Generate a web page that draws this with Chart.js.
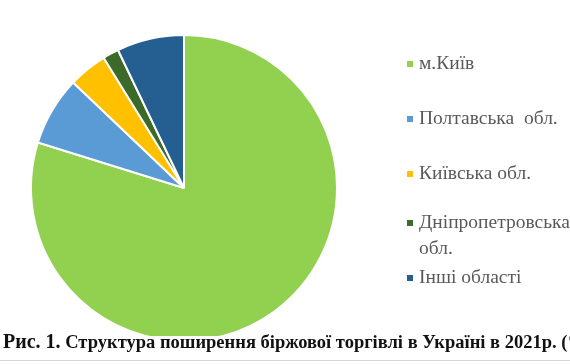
<!DOCTYPE html>
<html>
<head>
<meta charset="utf-8">
<script src="https://cdn.jsdelivr.net/npm/chart.js@4.4.0/dist/chart.umd.min.js"></script>
<style>
  html, body { margin: 0; padding: 0; background: #ffffff; }
  #wrap { position: relative; width: 570px; height: 364px; overflow: hidden; }
</style>
</head>
<body>
<div id="wrap"><canvas id="regionsChart" width="570" height="364"></canvas></div>
<script>
// regions and their shares, %
const regions = ['м.Київ', 'Полтавська  обл.', 'Київська обл.', 'Дніпропетровська обл.', 'Інші області'];
const legendLines = [['м.Київ'], ['Полтавська  обл.'], ['Київська обл.'], ['Дніпропетровська', 'обл.'], ['Інші області']];
const shares = [79.8, 7.3, 4.1, 1.7, 7.1];
const captionHead = 'Рис. 1.';
const captionBody = ' Структура поширення біржової торгівлі в Україні в 2021р. (%)';

const sliceColors = ['#92d050', '#5b9bd5', '#ffc000', '#3b6a2a', '#255e91'];
const legendRowY = [64, 119, 174, 223, 278];

const sideLegend = {
    id: 'sideLegend',
    afterDraw(chart) {
        const ctx = chart.ctx;
        ctx.save();
        // white strip under the pie, where the caption sits
        ctx.fillStyle = '#ffffff';
        ctx.fillRect(0, 336, 570, 28);
        ctx.fillStyle = '#d4d4d4';
        ctx.fillRect(0, 360, 570, 1);

        // legend
        ctx.font = '19.5px "Liberation Serif", "DejaVu Serif", serif';
        ctx.textBaseline = 'middle';
        chart.data.labels.forEach((label, i) => {
            const y = legendRowY[i];
            ctx.fillStyle = sliceColors[i];
            ctx.fillRect(407, y - 3, 6, 6);
            ctx.fillStyle = '#595959';
            legendLines[i].forEach((line, j) => {
                ctx.fillText(line, 419, y + j * 26);
            });
        });

        // caption
        ctx.fillStyle = '#111111';
        ctx.textBaseline = 'alphabetic';
        ctx.font = 'bold 20px "Liberation Serif", serif';
        ctx.fillText(captionHead, 3, 348);
        const w = ctx.measureText(captionHead).width;
        ctx.font = 'bold 18.5px "Liberation Serif", serif';
        ctx.fillText(captionBody, 3 + w, 348);
        ctx.restore();
    }
};

const ctx = document.getElementById('regionsChart').getContext('2d');
new Chart(ctx, {
    type: 'pie',
    data: {
        labels: regions,
        datasets: [{
            data: shares,
            backgroundColor: sliceColors,
            borderColor: '#ffffff',
            borderWidth: 2,
        }]
    },
    options: {
        responsive: false,
        animation: false,
        layout: {
            padding: { left: 30, right: 232, top: 34, bottom: 22 }
        },
        plugins: {
            legend: { display: false },
            tooltip: { enabled: false }
        }
    },
    plugins: [sideLegend]
});
</script>
</body>
</html>
